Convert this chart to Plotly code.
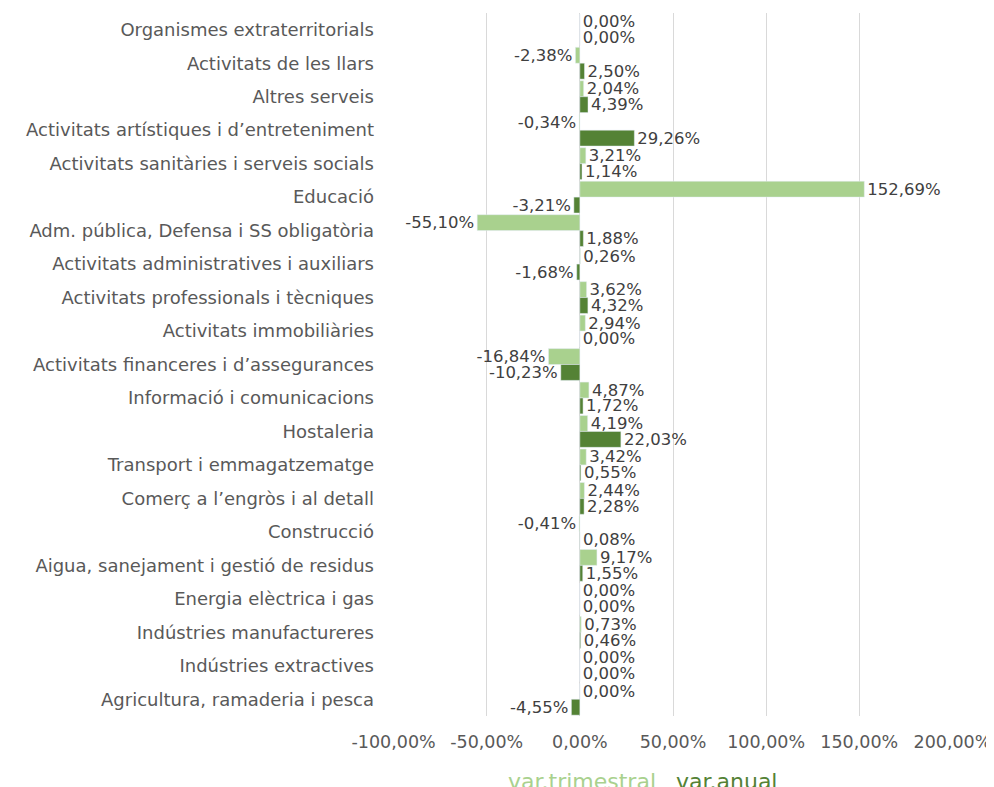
import plotly.graph_objects as go

# sectors, top to bottom as in the chart
categories = [
    'Organismes extraterritorials',
    'Activitats de les llars',
    'Altres serveis',
    'Activitats artístiques i d’entreteniment',
    'Activitats sanitàries i serveis socials',
    'Educació',
    'Adm. pública, Defensa i SS obligatòria',
    'Activitats administratives i auxiliars',
    'Activitats professionals i tècniques',
    'Activitats immobiliàries',
    'Activitats financeres i d’assegurances',
    'Informació i comunicacions',
    'Hostaleria',
    'Transport i emmagatzematge',
    'Comerç a l’engròs i al detall',
    'Construcció',
    'Aigua, sanejament i gestió de residus',
    'Energia elèctrica i gas',
    'Indústries manufactureres',
    'Indústries extractives',
    'Agricultura, ramaderia i pesca',
]
# variació trimestral (%)
var_trimestral = [0.00, -2.38, 2.04, -0.34, 3.21, 152.69, -55.10, 0.26, 3.62, 2.94,
                  -16.84, 4.87, 4.19, 3.42, 2.44, -0.41, 9.17, 0.00, 0.73, 0.00, 0.00]
# variació anual (%)
var_anual = [0.00, 2.50, 4.39, 29.26, 1.14, -3.21, 1.88, -1.68, 4.32, 0.00,
             -10.23, 1.72, 22.03, 0.55, 2.28, 0.08, 1.55, 0.00, 0.46, 0.00, -4.55]
tick_values = [-100, -50, 0, 50, 100, 150, 200]
tick_labels = [f'{v:.2f}%'.replace('.', ',') for v in tick_values]

color_trim = '#A9D18E'
color_anual = '#548235'
font_family = 'DejaVu Sans, sans-serif'

fig = go.Figure()
fig.add_trace(go.Bar(
    y=categories, x=var_trimestral, orientation='h', name='var.trimestral',
    marker_color=color_trim, texttemplate='%{x:.2f}%', textposition='outside',
    constraintext='none', cliponaxis=False,
    textfont=dict(size=16.5, color='#404040'),
))
fig.add_trace(go.Bar(
    y=categories, x=var_anual, orientation='h', name='var.anual',
    marker_color=color_anual, texttemplate='%{x:.2f}%', textposition='outside',
    constraintext='none', cliponaxis=False,
    textfont=dict(size=16.5, color='#404040'),
))

# the page body adds an 8px offset, so the figure is a little smaller than the window
fig.update_layout(
    width=986, height=779,
    barmode='group', bargap=0.05, bargroupgap=0,
    separators=',.',
    showlegend=False,
    plot_bgcolor='white', paper_bgcolor='white',
    font=dict(family=font_family, size=16, color='#595959'),
    margin=dict(l=385, r=41, t=5, b=71),
    xaxis=dict(
        range=[-100.3, 200.3], tickvals=tick_values, ticktext=tick_labels,
        showgrid=True, gridcolor='#D9D9D9', gridwidth=1, zeroline=False,
        tickfont=dict(size=17.5, color='#595959'), ticks='', ticklabelstandoff=13,
        automargin=False,
    ),
    yaxis=dict(
        autorange='reversed', showgrid=False, zeroline=False, ticks='',
        tickfont=dict(size=18, color='#595959'), ticklabelstandoff=18,
        automargin=False,
    ),
    annotations=[
        dict(text='var.trimestral', x=0.3375, y=-0.073, xref='paper', yref='paper',
             showarrow=False, xanchor='center', yanchor='top',
             font=dict(size=22, color=color_trim, family=font_family)),
        dict(text='var.anual', x=0.596, y=-0.073, xref='paper', yref='paper',
             showarrow=False, xanchor='center', yanchor='top',
             font=dict(size=22, color=color_anual, family=font_family)),
    ],
)

fig.write_html('out.html')
